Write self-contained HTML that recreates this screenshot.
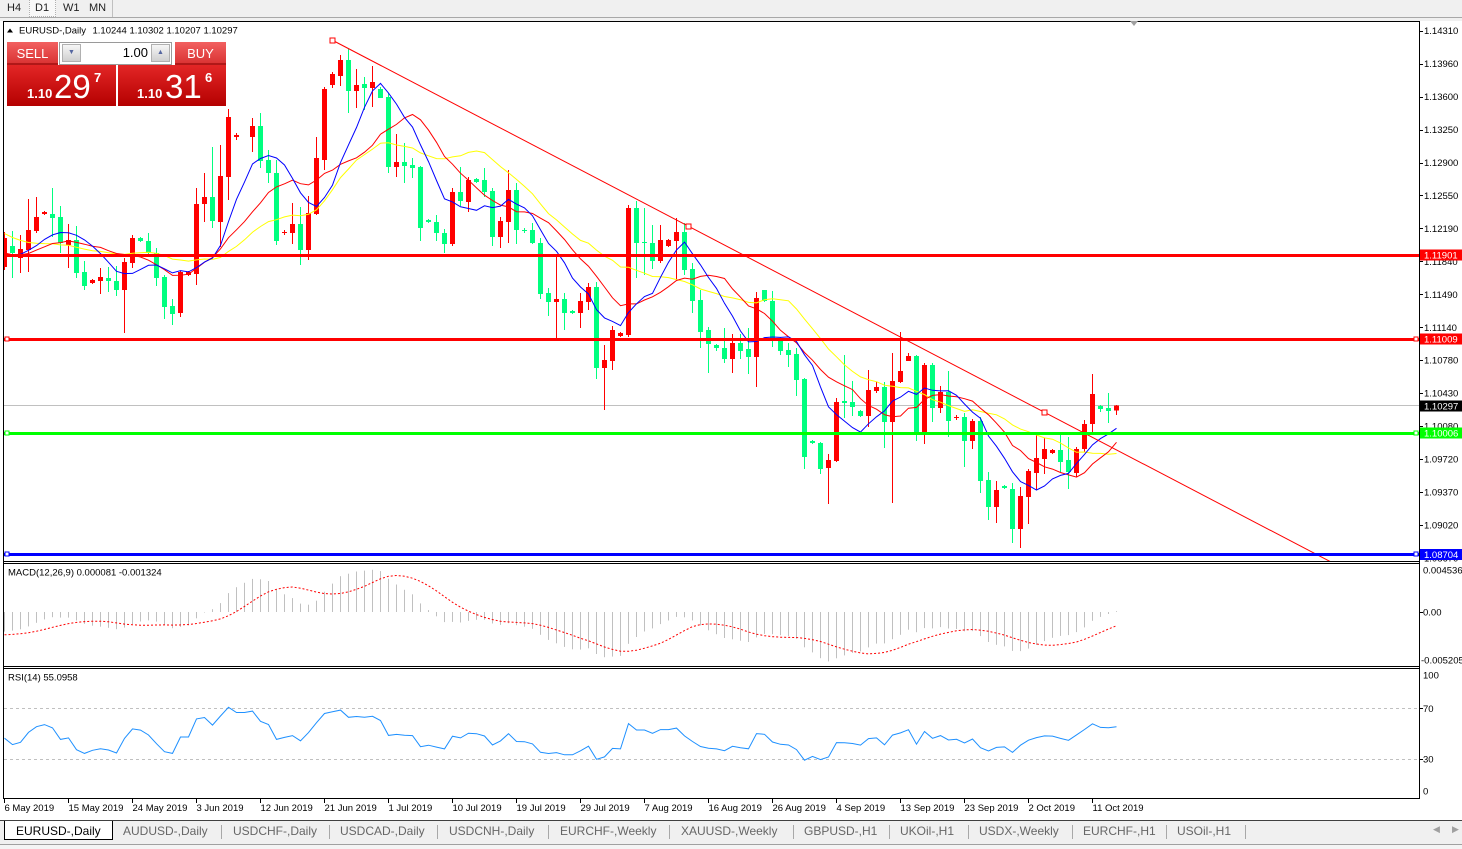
<!DOCTYPE html>
<html><head><meta charset="utf-8">
<style>
html,body{margin:0;padding:0;}
body{width:1462px;height:849px;overflow:hidden;background:#fff;position:relative;font-family:"Liberation Sans",sans-serif;}
.abs{position:absolute;}
.tb{position:absolute;top:0;height:17px;font-size:11px;line-height:17px;color:#222;}
.hdr{position:absolute;top:42px;height:23px;background:linear-gradient(#f26060,#d83030);color:#fff;font-size:13px;line-height:23px;text-align:center;box-shadow:inset 0 -2px 0 #b01818;}
.low{position:absolute;top:65px;height:41px;background:linear-gradient(#e32626,#b40000);}
.w{position:absolute;color:#fff;line-height:1;white-space:nowrap;}
.tab{position:absolute;top:824px;font-size:12px;line-height:15px;color:#666;white-space:nowrap;}
.sep{position:absolute;top:825px;width:1px;height:14px;background:#a8a8a8;}
</style></head><body>

<!-- top toolbar -->
<div class="abs" style="left:0;top:0;width:1462px;height:17px;background:#f0f0f0;"></div>
<div class="abs" style="left:0;top:17px;width:1462px;height:1px;background:#a8a8a8;"></div>
<div class="abs" style="left:0;top:18px;width:1462px;height:3px;background:#f0f0f0;"></div>
<div class="abs" style="left:29px;top:0;width:25px;height:16px;background:#f8f8f8;border:1px dotted #b0b0b0;border-top:none;"></div>
<div class="abs" style="left:112px;top:0;width:1px;height:17px;background:#c0c0c0;"></div>
<div class="tb" style="left:7px;">H4</div>
<div class="tb" style="left:35px;">D1</div>
<div class="tb" style="left:63px;">W1</div>
<div class="tb" style="left:89px;">MN</div>

<svg class="abs" style="left:0;top:0" width="1462" height="849" font-family="Liberation Sans, sans-serif">
<defs>
<clipPath id="cm"><rect x="4" y="22" width="1415" height="539"/></clipPath>
<clipPath id="cd"><rect x="4" y="564" width="1415" height="102"/></clipPath>
<clipPath id="cr"><rect x="4" y="669" width="1415" height="129"/></clipPath>
</defs>
<!-- frames -->
<rect x="3" y="21" width="1417" height="1" fill="#000"/>
<rect x="3" y="21" width="1" height="778" fill="#000"/>
<rect x="1419" y="21" width="1" height="778" fill="#000"/>
<rect x="3" y="561" width="1417" height="1" fill="#000"/>
<rect x="3" y="563" width="1417" height="1" fill="#000"/>
<rect x="3" y="666" width="1417" height="1" fill="#000"/>
<rect x="3" y="668" width="1417" height="1" fill="#000"/>
<rect x="3" y="798" width="1417" height="1" fill="#000"/>
<polygon points="1130,21 1138,21 1134,26" fill="#a0a0a0"/>

<g clip-path="url(#cm)">
 <rect x="4" y="405" width="1415" height="1" fill="#c0c0c0"/>
 <g id="candles"></g>
 <g id="mas"></g>
 <line x1="332" y1="40" x2="1332" y2="562.5" stroke="#ff0000" stroke-width="1"/>
 <rect x="330" y="38" width="5" height="5" fill="#fff" stroke="#ff0000" stroke-width="1"/>
 <rect x="686" y="224" width="5" height="5" fill="#fff" stroke="#ff0000" stroke-width="1"/>
 <rect x="1042" y="410" width="5" height="5" fill="#fff" stroke="#ff0000" stroke-width="1"/>
 <rect x="4" y="254" width="1415" height="3" fill="#ff0000"/>
 <rect x="4" y="338" width="1415" height="3" fill="#ff0000"/>
 <rect x="4" y="432" width="1415" height="3" fill="#00ff00"/>
 <rect x="4" y="553" width="1415" height="3" fill="#0000ff"/>
 <rect x="5" y="337" width="4" height="4" fill="#fff" stroke="#ff0000"/>
 <rect x="1414" y="337" width="4" height="4" fill="#fff" stroke="#ff0000"/>
 <rect x="5" y="431" width="4" height="4" fill="#fff" stroke="#00ff00"/>
 <rect x="1414" y="431" width="4" height="4" fill="#fff" stroke="#00ff00"/>
 <rect x="5" y="552" width="4" height="4" fill="#fff" stroke="#0000ff"/>
 <rect x="1414" y="552" width="4" height="4" fill="#fff" stroke="#0000ff"/>
</g>

<!-- title -->
<polygon points="7,32.5 13,32.5 10,28.5" fill="#000"/>
<text x="19" y="33.5" font-size="9.5" fill="#000">EURUSD-,Daily</text>
<text x="92.5" y="33.5" font-size="9.5" fill="#000">1.10244 1.10302 1.10207 1.10297</text>

<!-- price axis -->
<g id="paxis" font-size="9.5" fill="#000"></g>
<rect x="1420" y="249.5" width="42" height="11" fill="#ff0000"/>
<text x="1424" y="258.5" font-size="9.5" fill="#fff">1.11901</text>
<rect x="1420" y="333.5" width="42" height="11" fill="#ff0000"/>
<text x="1424" y="342.5" font-size="9.5" fill="#fff">1.11009</text>
<rect x="1420" y="400.5" width="42" height="11" fill="#000"/>
<text x="1424" y="409.5" font-size="9.5" fill="#fff">1.10297</text>
<rect x="1420" y="427.5" width="42" height="11" fill="#00ff00"/>
<text x="1424" y="436.5" font-size="9.5" fill="#fff">1.10006</text>
<rect x="1420" y="549" width="42" height="11" fill="#0000ff"/>
<text x="1424" y="558" font-size="9.5" fill="#fff">1.08704</text>

<!-- MACD -->
<g clip-path="url(#cd)"><g id="macd"></g></g>
<text x="8" y="575.5" font-size="9.5" fill="#000">MACD(12,26,9) 0.000081 -0.001324</text>
<text x="1423" y="573.5" font-size="9.5" fill="#000">0.004536</text>
<rect x="1419" y="612" width="4" height="1" fill="#000"/>
<text x="1423" y="615.5" font-size="9.5" fill="#000">0.00</text>
<text x="1421" y="663.5" font-size="9.5" fill="#000">-0.005205</text>

<!-- RSI -->
<line x1="4" y1="708.5" x2="1419" y2="708.5" stroke="#c0c0c0" stroke-dasharray="3,3"/>
<line x1="4" y1="759.5" x2="1419" y2="759.5" stroke="#c0c0c0" stroke-dasharray="3,3"/>
<g clip-path="url(#cr)"><g id="rsi"></g></g>
<text x="8" y="680.5" font-size="9.5" fill="#000">RSI(14) 55.0958</text>
<text x="1423" y="678.5" font-size="9.5" fill="#000">100</text>
<rect x="1419" y="708" width="4" height="1" fill="#000"/>
<text x="1423" y="712" font-size="9.5" fill="#000">70</text>
<rect x="1419" y="759" width="4" height="1" fill="#000"/>
<text x="1423" y="762.5" font-size="9.5" fill="#000">30</text>
<text x="1423" y="794.5" font-size="9.5" fill="#000">0</text>

<!-- date axis -->
<g id="daxis" font-size="9.5" fill="#000"></g>
</svg>

<!-- Sell / Buy panel -->
<div class="low" style="left:7px;width:109px;"></div>
<div class="low" style="left:118px;width:108px;"></div>
<div class="hdr" style="left:7px;width:51px;">SELL</div>
<div class="hdr" style="left:175px;width:51px;">BUY</div>
<div class="abs" style="left:59px;top:42px;width:111px;height:21px;background:#fff;border:1px solid #9a9a9a;"></div>
<div class="abs" style="left:62px;top:44px;width:19px;height:18px;background:linear-gradient(#f6f6f6,#cfcfcf);border:1px solid #b0b0b0;box-sizing:border-box;color:#5566a0;font-size:7px;line-height:16px;text-align:center;">&#9660;</div>
<div class="abs" style="left:151px;top:44px;width:19px;height:18px;background:linear-gradient(#f6f6f6,#cfcfcf);border:1px solid #b0b0b0;box-sizing:border-box;color:#5566a0;font-size:7px;line-height:16px;text-align:center;">&#9650;</div>
<div class="abs" style="left:100px;top:42px;width:48px;height:22px;font-size:13px;line-height:22px;text-align:right;color:#000;">1.00</div>
<div class="w" style="left:27px;top:86.5px;font-size:13px;font-weight:bold;">1.10</div>
<div class="w" style="left:54px;top:70px;font-size:33px;">29</div>
<div class="w" style="left:94px;top:70.5px;font-size:13px;font-weight:bold;">7</div>
<div class="w" style="left:137px;top:86.5px;font-size:13px;font-weight:bold;">1.10</div>
<div class="w" style="left:165px;top:70px;font-size:33px;">31</div>
<div class="w" style="left:205px;top:70.5px;font-size:13px;font-weight:bold;">6</div>

<!-- bottom tabs -->
<div class="abs" style="left:0;top:820px;width:1462px;height:1px;background:#404040;"></div>
<div class="abs" style="left:0;top:821px;width:1462px;height:23px;background:#f0f0f0;"></div>
<div class="abs" style="left:0;top:844px;width:1462px;height:1px;background:#a0a0a0;"></div>
<div class="abs" style="left:0;top:845px;width:1462px;height:4px;background:#f4f4f4;"></div>
<div class="abs" style="left:4px;top:821px;width:107px;height:18px;background:#fff;border:1px solid #000;border-top:none;"></div>
<div class="tab" style="left:16px;color:#000;">EURUSD-,Daily</div>
<div class="tab" style="left:123px;">AUDUSD-,Daily</div><div class="sep" style="left:221px;"></div>
<div class="tab" style="left:233px;">USDCHF-,Daily</div><div class="sep" style="left:329px;"></div>
<div class="tab" style="left:340px;">USDCAD-,Daily</div><div class="sep" style="left:437px;"></div>
<div class="tab" style="left:449px;">USDCNH-,Daily</div><div class="sep" style="left:548px;"></div>
<div class="tab" style="left:560px;">EURCHF-,Weekly</div><div class="sep" style="left:669px;"></div>
<div class="tab" style="left:681px;">XAUUSD-,Weekly</div><div class="sep" style="left:793px;"></div>
<div class="tab" style="left:804px;">GBPUSD-,H1</div><div class="sep" style="left:889px;"></div>
<div class="tab" style="left:900px;">UKOil-,H1</div><div class="sep" style="left:968px;"></div>
<div class="tab" style="left:979px;">USDX-,Weekly</div><div class="sep" style="left:1072px;"></div>
<div class="tab" style="left:1083px;">EURCHF-,H1</div><div class="sep" style="left:1166px;"></div>
<div class="tab" style="left:1177px;">USOil-,H1</div><div class="sep" style="left:1245px;"></div>
<div class="abs" style="left:1433px;top:824px;font-size:9px;color:#a0a0a0;">&#9664;</div>
<div class="abs" style="left:1452px;top:824px;font-size:9px;color:#a0a0a0;">&#9654;</div>

<script>
(function(){
var D=[
['r',238,267,232,270],['g',246,253,231,278],['r',249,258,235,273],['r',230,250,199,272],['r',217,231,197,233],
['r',212,214,211,215],['g',214,218,188,237],['g',217,243,206,253],['r',240,245,224,268],['g',240,273,226,278],
['g',272,286,261,290],['r',280,283,279,284],['r',277,281,268,294],['g',278,281,267,292],['g',281,290,266,296],
['r',262,290,258,333],['r',238,263,235,268],['g',238,241,237,242],['g',241,253,233,257],['g',253,278,248,286],
['g',277,307,275,319],['g',306,314,299,325],['r',272,313,271,317],['r',272,275,271,276],['r',204,274,188,285],
['r',197,204,173,222],['g',197,221,147,228],['r',176,222,145,247],['r',117,177,109,200],['r',135,137,133,140],
null,['r',126,137,118,152],['g',126,161,113,168],['g',160,173,150,183],['g',173,241,160,245],
['r',232,233,230,235],['r',224,233,203,244],['g',224,250,207,265],['r',213,250,196,260],['r',158,214,137,215],
['r',89,160,87,170],['r',74,85,72,88],['r',60,76,55,86],['g',60,91,49,113],['r',85,91,69,108],
['g',84,88,77,110],['r',82,88,66,107],['g',89,98,87,98],['g',97,167,93,173],['r',162,167,134,177],
['g',162,166,143,183],['g',165,168,158,178],['g',167,228,166,241],['g',220,222,219,223],['g',222,233,215,241],
['g',233,244,229,253],['r',192,244,188,246],['g',192,201,167,206],['r',180,202,177,212],['g',179,182,178,183],
['g',180,192,168,197],['g',191,237,188,246],['r',221,237,217,248],['r',190,222,170,243],['g',190,230,183,244],
['g',230,231,228,233],['g',230,243,223,244],['g',243,294,238,299],['g',293,302,288,316],['r',299,302,255,339],
['g',299,313,293,330],['g',311,313,310,314],['r',301,313,293,328],['r',287,302,283,310],['g',287,368,282,379],
['r',360,368,345,410],['r',330,361,326,370],['r',333,336,332,337],['r',208,335,205,337],['g',208,243,201,278],
['g',242,243,208,275],['g',243,261,225,269],['r',240,261,225,263],['r',240,246,239,247],['r',232,241,218,280],
['g',232,270,223,275],['g',269,301,263,313],['g',300,332,290,348],['g',330,344,327,373],['g',345,348,344,351],
['g',348,359,328,363],['r',343,359,334,373],['g',343,351,334,359],['g',349,357,328,374],['r',298,357,292,387],
['g',290,301,290,302],['g',301,339,291,347],['g',341,351,337,355],['g',350,355,343,367],['g',354,380,348,396],
['g',379,457,378,469],['g',441,443,440,444],['g',443,469,442,474],['r',460,468,454,504],['r',402,461,398,462],
['g',401,403,355,418],['g',402,407,381,416],['g',411,416,410,417],['r',390,416,370,427],['r',387,391,382,393],
['g',387,422,382,448],['r',381,422,353,503],['r',371,382,332,383],['r',356,361,353,361],['g',356,432,355,441],
['r',365,432,363,444],['g',365,408,363,422],['r',392,408,386,413],['g',392,421,371,437],['r',417,418,415,420],
['g',417,441,413,467],['r',421,441,419,449],['g',421,481,417,493],['g',480,507,472,520],['r',490,507,481,523],
['g',486,488,485,489],['g',489,529,483,543],['r',496,529,487,548],['r',471,497,469,524],['r',458,473,435,490],
['r',449,459,438,474],['r',450,453,449,454],['g',450,462,435,472],['g',460,472,437,489],['r',449,473,447,477],
['r',424,449,420,452],['r',394,424,374,432],['g',406,409,405,412],['g',408,411,393,423],['r',405.5,410.5,405,415]
];
var N=D.length,k,i,j;
var X=function(k){return 4.5+8*k;};
var cy=[],last=258;
for(k=0;k<N;k++){var d=D[k];if(d){last=d[0]==='r'?d[1]:d[2];}cy.push(last);}
var hist=[];
for(j=0;j<40;j++){var v;if(j<20)v=176;else if(j<32)v=176+(j-20)*82/11;else v=258;if(v>258)v=258;hist.push(v+(j%2?4:-4));}
var S=hist.concat(cy),H=hist.length;
function sma(n,k){var s=0;for(var i=H+k-n+1;i<=H+k;i++)s+=S[i];return s/n;}
function pl(arr,col,extra){return '<polyline fill="none" stroke="'+col+'" stroke-width="1" '+(extra||'')+' points="'+arr.map(function(p){return p[0].toFixed(1)+','+p[1].toFixed(1);}).join(' ')+'"/>';}
// candles
var cs='';
for(k=0;k<N;k++){var d=D[k];if(!d)continue;var col=d[0]==='r'?'#ff0000':'#00ff7f';var x=4+8*k;
 cs+='<rect x="'+x+'" y="'+d[3]+'" width="1" height="'+(d[4]-d[3])+'" fill="'+col+'"/>';
 cs+='<rect x="'+(x-2)+'" y="'+d[1]+'" width="5" height="'+Math.max(1,d[2]-d[1])+'" fill="'+col+'"/>';}
document.getElementById('candles').innerHTML=cs;
// MAs
var ma='';
[[21,'#ffff00'],[13,'#ff0000'],[8,'#0000ff']].forEach(function(a){var arr=[];for(var k=0;k<N;k++)arr.push([X(k),sma(a[0],k)]);ma+=pl(arr,a[1]);});
document.getElementById('mas').innerHTML=ma;
// prices
var P=S.map(function(y){return 1.14310-(y-30.7)/9360;});
// MACD
var e12=P[0],e26=P[0],a12=2/13,a26=2/27,mac=[];
for(i=0;i<P.length;i++){if(i){e12+=a12*(P[i]-e12);e26+=a26*(P[i]-e26);}mac.push(e12-e26);}
var hs='',sig=[];
for(k=0;k<N;k++){i=H+k;var y=612-mac[i]*10360;
 hs+='<rect x="'+(4+8*k)+'" y="'+Math.min(612,y).toFixed(1)+'" width="1" height="'+Math.max(0.5,Math.abs(y-612)).toFixed(1)+'" fill="#c0c0c0"/>';
 var s=0;for(j=i-8;j<=i;j++)s+=mac[j];s/=9;sig.push([X(k),612-s*10360]);}
hs+=pl(sig,'#ff0000','stroke-dasharray="2,2"');
document.getElementById('macd').innerHTML=hs;
// RSI
var ag=0,al=0,rsi=[];
for(i=1;i<P.length;i++){var ch=P[i]-P[i-1];var g=ch>0?ch:0,l=ch<0?-ch:0;
 if(i<=14){ag+=g/14;al+=l/14;}else{ag=(ag*13+g)/14;al=(al*13+l)/14;}
 rsi[i]=al===0?100:100-100/(1+ag/al);}
var ra=[];for(k=0;k<N;k++)ra.push([X(k),797-rsi[H+k]*1.2775]);
document.getElementById('rsi').innerHTML=pl(ra,'#1e90ff');
// price axis
var labs=['1.14310','1.13960','1.13600','1.13250','1.12900','1.12550','1.12190','1.11840','1.11490','1.11140','1.10780','1.10430','1.10080','1.09720','1.09370','1.09020','1.08670'];
var pa='';
for(i=0;i<labs.length;i++){var yy=30.7+32.95*i;pa+='<rect x="1419" y="'+Math.round(yy)+'" width="4" height="1" fill="#000"/><text x="1424" y="'+(yy+3.5).toFixed(1)+'">'+labs[i]+'</text>';}
document.getElementById('paxis').innerHTML=pa;
// date axis
var dl=['6 May 2019','15 May 2019','24 May 2019','3 Jun 2019','12 Jun 2019','21 Jun 2019','1 Jul 2019','10 Jul 2019','19 Jul 2019','29 Jul 2019','7 Aug 2019','16 Aug 2019','26 Aug 2019','4 Sep 2019','13 Sep 2019','23 Sep 2019','2 Oct 2019','11 Oct 2019'];
var da='';
for(i=0;i<dl.length;i++){var xx=4+64*i;da+='<rect x="'+xx+'" y="799" width="1" height="4" fill="#000"/><text x="'+(xx+0.5)+'" y="811">'+dl[i]+'</text>';}
document.getElementById('daxis').innerHTML=da;
})();
</script>
</body></html>
